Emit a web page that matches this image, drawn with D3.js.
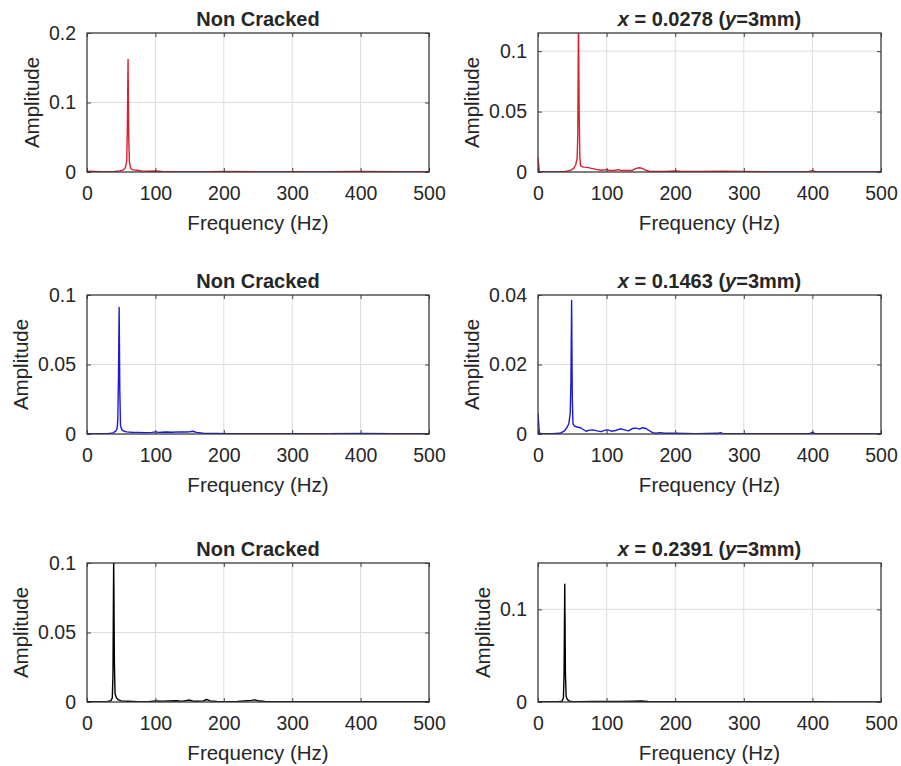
<!DOCTYPE html>
<html>
<head>
<meta charset="utf-8">
<script src="https://cdn.jsdelivr.net/npm/d3@7/dist/d3.min.js"></script>
<style>
  html, body { margin: 0; padding: 0; background: #fff; }
  svg { display: block; }
  text { font-family: "Liberation Sans", Arial, Helvetica, sans-serif; fill: #262626; }
</style>
</head>
<body>
<svg id="chart" width="901" height="766"></svg>
<script>
// ---------------- DATA ----------------
const xTicks = [0, 100, 200, 300, 400, 500];

// Panel A: Non Cracked (red)
const freqA = [0,5,10,20,30,40,48,53,56,58,59,60,61,62,64,67,72,80,90,100,110,130,150,180,200,250,300,350,400,450,500];
const ampA  = [0.0005,0.001,0.0008,0.0006,0.0006,0.0008,0.0015,0.003,0.006,0.015,0.06,0.162,0.05,0.014,0.005,0.003,0.0025,0.0015,0.001,0.0015,0.0008,0.0006,0.0005,0.0005,0.0008,0.0005,0.0004,0.0004,0.0008,0.0004,0.0004];
const yTicksA = [0, 0.1, 0.2];

// Panel B: x = 0.0278 (red)
const freqB = [0,1,2,5,20,35,42,48,52,55,57,58,59,60,61,62,64,67,72,78,85,92,100,105,112,118,122,130,138,143,148,152,157,162,170,185,200,210,240,270,300,350,395,400,405,450,500];
const ampB  = [0.012,0.006,0.0005,0.0002,0.0002,0.0003,0.0006,0.0015,0.003,0.006,0.011,0.03,0.13,0.05,0.012,0.0055,0.0045,0.004,0.0038,0.003,0.0022,0.0015,0.002,0.0012,0.0015,0.002,0.0012,0.0012,0.0015,0.003,0.0035,0.003,0.0015,0.0006,0.0005,0.0004,0.0008,0.0004,0.0005,0.0006,0.0004,0.0003,0.0004,0.0012,0.0003,0.0002,0.0002];
const yTicksB = [0, 0.05, 0.1];

// Panel C: Non Cracked (blue)
const freqC = [0,10,20,30,38,42,44,45,46,47,48,49,51,54,58,65,75,85,95,100,105,115,125,135,145,150,155,160,170,190,210,250,300,350,400,450,500];
const ampC  = [0.0003,0.0002,0.0002,0.0003,0.0008,0.002,0.004,0.01,0.04,0.091,0.03,0.006,0.003,0.002,0.0015,0.0013,0.0012,0.001,0.0012,0.0015,0.0012,0.0014,0.0013,0.0015,0.0014,0.0016,0.002,0.0012,0.0005,0.0004,0.0003,0.0003,0.0003,0.0002,0.0004,0.0002,0.0002];
const yTicksC = [0, 0.05, 0.1];

// Panel D: x = 0.1463 (blue)
const freqD = [0,1,2,5,20,32,38,42,45,47,48,49,50,51,53,57,62,66,70,75,80,86,92,98,102,107,113,120,126,132,138,143,148,152,157,162,167,172,178,185,200,230,262,266,270,300,350,396,400,404,450,500];
const ampD  = [0.006,0.003,0.0003,0.0001,0.0001,0.0002,0.0008,0.0018,0.003,0.006,0.015,0.0384,0.01,0.003,0.0023,0.002,0.0018,0.0013,0.0008,0.0011,0.0012,0.0009,0.0007,0.0011,0.0012,0.0008,0.001,0.0015,0.0012,0.0009,0.0016,0.0017,0.0014,0.0018,0.0016,0.001,0.0004,0.0002,0.0004,0.0002,0.0002,0.0001,0.0002,0.0004,0.0001,0.0001,0.0001,0.0001,0.0005,0.0001,0.0001,0.0001];
const yTicksD = [0, 0.02, 0.04];

// Panel E: Non Cracked (black)
const freqE = [0,10,20,30,35,37,38,39,40,41,43,46,50,60,75,90,100,110,120,130,135,140,150,155,160,170,175,180,190,200,220,240,245,250,260,280,300,330,360,400,430,460,500];
const ampE  = [0.0003,0.0003,0.0003,0.0004,0.001,0.003,0.02,0.105,0.03,0.006,0.003,0.0015,0.0008,0.0005,0.0002,0.0003,0.0008,0.0006,0.0007,0.0009,0.0007,0.0006,0.0014,0.0006,0.0005,0.0008,0.0018,0.0008,0.0004,0.0003,0.0004,0.0012,0.0015,0.0009,0.0004,0.0003,0.0002,0.0003,0.0003,0.0002,0.0003,0.0002,0.0002];
const yTicksE = [0, 0.05, 0.1];

// Panel F: x = 0.2391 (black)
const freqF = [0,10,20,30,35,37,38,39,40,41,43,46,50,60,80,100,120,140,150,160,180,200,250,300,350,400,450,500];
const ampF  = [0.0002,0.0002,0.0002,0.0003,0.001,0.004,0.03,0.127,0.03,0.006,0.0025,0.001,0.0006,0.0004,0.0005,0.0007,0.0006,0.0008,0.001,0.0006,0.0004,0.0003,0.0004,0.0002,0.0002,0.0002,0.0001,0.0001];
const yTicksF = [0, 0.1];

const yMax = [0.2, 0.115, 0.1, 0.04, 0.1, 0.15];
const titlesNon = "Non Cracked";
const crackX = ["0.0278", "0.1463", "0.2391"];

// ---------------- DRAWING ----------------
const svg = d3.select("#chart");
const colLeft = [87, 538], colRight = [429, 881];
const rowTop = [33, 295, 563], rowBottom = [172, 434, 702];
const colors = ["#dc1f2d", "#1a1ad8", "#000000"];

const panels = [
  {f: freqA, a: ampA, ticks: yTicksA, r: 0, c: 0},
  {f: freqB, a: ampB, ticks: yTicksB, r: 0, c: 1},
  {f: freqC, a: ampC, ticks: yTicksC, r: 1, c: 0},
  {f: freqD, a: ampD, ticks: yTicksD, r: 1, c: 1},
  {f: freqE, a: ampE, ticks: yTicksE, r: 2, c: 0},
  {f: freqF, a: ampF, ticks: yTicksF, r: 2, c: 1}
];

const fmt = v => String(+v.toFixed(4));

panels.forEach((p, i) => {
  const x0 = colLeft[p.c], x1 = colRight[p.c], y0 = rowTop[p.r], y1 = rowBottom[p.r];
  const w = x1 - x0, h = y1 - y0;
  const x = d3.scaleLinear().domain([0, 500]).range([0, w]);
  const y = d3.scaleLinear().domain([0, yMax[i]]).range([h, 0]);
  const g = svg.append("g").attr("transform", `translate(${x0},${y0})`);

  // grid
  g.append("g").selectAll("line").data(xTicks.slice(1, -1)).join("line")
    .attr("x1", d => x(d)).attr("x2", d => x(d)).attr("y1", 0).attr("y2", h)
    .attr("stroke", "#dcdcdc").attr("stroke-width", 1);
  g.append("g").selectAll("line").data(p.ticks.filter(t => t > 0 && t < yMax[i])).join("line")
    .attr("x1", 0).attr("x2", w).attr("y1", d => y(d)).attr("y2", d => y(d))
    .attr("stroke", "#dcdcdc").attr("stroke-width", 1);

  // clip
  const cid = "clip" + i;
  g.append("clipPath").attr("id", cid).append("rect").attr("width", w).attr("height", h);

  const data = p.f.map((f, k) => [f, p.a[k]]);
  g.append("path").datum(data)
    .attr("clip-path", `url(#${cid})`)
    .attr("fill", "none").attr("stroke", colors[p.r]).attr("stroke-width", 1.4)
    .attr("stroke-linejoin", "round")
    .attr("d", d3.line().x(d => x(d[0])).y(d => y(d[1])));

  // axes
  const tl = 4;
  const xb = g.append("g").attr("transform", `translate(0,${h})`)
    .call(d3.axisBottom(x).tickValues(xTicks).tickSize(-tl).tickPadding(14).tickFormat(fmt));
  const xt = g.append("g")
    .call(d3.axisTop(x).tickValues(xTicks).tickSize(-tl).tickFormat(""));
  const yl = g.append("g")
    .call(d3.axisLeft(y).tickValues(p.ticks).tickSize(-tl).tickPadding(11).tickFormat(fmt));
  const yr = g.append("g").attr("transform", `translate(${w},0)`)
    .call(d3.axisRight(y).tickValues(p.ticks).tickSize(-tl).tickFormat(""));
  [xb, xt, yl, yr].forEach(a => {
    a.select(".domain").remove();
    a.selectAll(".tick line").attr("stroke", "#404040").attr("stroke-width", 1);
    a.selectAll("text").attr("font-size", 19.5).attr("fill", "#262626")
      .attr("font-family", '"Liberation Sans", Arial, sans-serif');
  });
  xb.selectAll("text").attr("dy", "0.71em");

  g.append("rect").attr("width", w).attr("height", h)
    .attr("fill", "none").attr("stroke", "#3a3a3a").attr("stroke-width", 1.3);

  // labels
  g.append("text").attr("x", w / 2).attr("y", h + 58).attr("text-anchor", "middle")
    .attr("font-size", 20.5).text("Frequency (Hz)");

  let minX = 0;
  yl.selectAll("text").each(function () {
    const b = this.getBBox();
    minX = Math.min(minX, b.x);
  });
  g.append("text")
    .attr("transform", `translate(${minX - 10},${h / 2}) rotate(-90)`)
    .attr("text-anchor", "middle").attr("font-size", 20.5).text("Amplitude");

  const t = g.append("text").attr("x", w / 2).attr("y", -7).attr("text-anchor", "middle")
    .attr("font-size", 20).attr("font-weight", "bold").attr("fill", "#000");
  if (p.c === 0) {
    t.text(titlesNon);
  } else {
    t.append("tspan").attr("font-style", "italic").text("x");
    t.append("tspan").text(" = " + crackX[p.r] + " (");
    t.append("tspan").attr("font-style", "italic").text("y");
    t.append("tspan").text("=3mm)");
  }
});
</script>
</body>
</html>
